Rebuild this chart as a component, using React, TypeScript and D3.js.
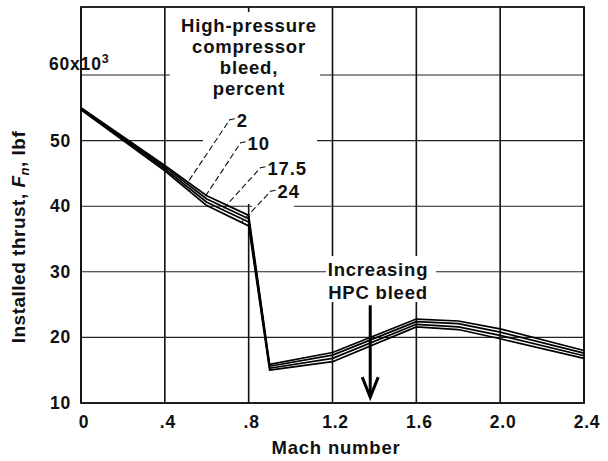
import React from "react";
import * as d3 from "d3";

const mach = [0, 0.4, 0.6, 0.8, 0.9, 1.2, 1.6, 1.8, 2.0, 2.4];
const bleed2 = [55.0, 46.2, 41.6, 38.6, 15.9, 17.7, 22.8, 22.5, 21.3, 18.0];
const bleed10 = [54.9, 46.0, 41.1, 38.1, 15.6, 17.3, 22.4, 22.1, 20.8, 17.6];
const bleed175 = [54.8, 45.7, 40.6, 37.6, 15.3, 16.8, 22.0, 21.6, 20.3, 17.2];
const bleed24 = [54.7, 45.4, 40.1, 37.0, 15.0, 16.3, 21.6, 21.2, 19.8, 16.8];
const seriesNames = ["2", "10", "17.5", "24"];
const seriesValues = [bleed2, bleed10, bleed175, bleed24];
const leaderTargetMach = [0.51, 0.59, 0.675, 0.765];
const labelMach = [0.743, 0.795, 0.89, 0.938];
const labelValue = [52.1, 48.6, 44.8, 41.2];
const xTicks = [0, 0.4, 0.8, 1.2, 1.6, 2.0, 2.4];
const xTickLabels = ["0", ".4", ".8", "1.2", "1.6", "2.0", "2.4"];
const yTicks = [10, 20, 30, 40, 50, 60];
const titleLines = ["High-pressure", "compressor", "bleed,", "percent"];
const arrowMach = 1.38;
const arrowFrom = 24.9;
const arrowTo = 10.9;

const W = 608;
const H = 461;
const FONT = "'Liberation Sans', Arial, Helvetica, sans-serif";

export default function App() {
  const x = d3.scaleLinear().domain([0, 2.4]).range([81, 584]);
  const y = d3.scaleLinear().domain([10, 60]).range([403, 75]);
  const top = 7;
  const left = x(0), right = x(2.4), bottom = y(10);

  const line = d3
    .line<[number, number]>()
    .x((d) => x(d[0]))
    .y((d) => y(d[1]));

  const interp = (vals: number[], m: number) => {
    const i = d3.bisectRight(mach, m) - 1;
    const t = (m - mach[i]) / (mach[i + 1] - mach[i]);
    return vals[i] + t * (vals[i + 1] - vals[i]);
  };

  const txt = {
    fontFamily: FONT,
    fontWeight: "bold" as const,
    fill: "#111",
    letterSpacing: "0.8px",
  };

  return (
    <svg
      width={W}
      height={H}
      style={{ position: "absolute", left: 0, top: 0, background: "#fff" }}
    >
      <rect width={W} height={H} fill="#fff" />
      {/* gridlines */}
      {xTicks.map((t) => (
        <line key={"vx" + t} x1={x(t)} x2={x(t)} y1={top} y2={bottom} stroke="#111" strokeWidth={1.6} />
      ))}
      {yTicks.map((t) => (
        <line key={"hy" + t} x1={left} x2={right} y1={y(t)} y2={y(t)} stroke="#222" strokeWidth={1.1} />
      ))}
      {/* frame */}
      <rect x={left} y={top} width={right - left} height={bottom - top} fill="none" stroke="#111" strokeWidth={1.8} />
      {/* white patches behind annotations */}
      <rect x={170} y={12} width={150} height={90} fill="#fff" />
      <rect x={203} y={100} width={114} height={104} fill="#fff" />
      <rect x={252} y={203} width={42} height={8} fill="#fff" />
      <rect x={326} y={256} width={110} height={46} fill="#fff" />

      {/* curves */}
      {seriesValues.map((vals, i) => (
        <path
          key={seriesNames[i]}
          d={line(mach.map((m, j) => [m, vals[j]] as [number, number])) || ""}
          fill="none"
          stroke="#000"
          strokeWidth={1.7}
          strokeLinejoin="round"
        />
      ))}

      {/* legend title */}
      {titleLines.map((s, i) => (
        <text key={s} x={249} y={32 + i * 21} textAnchor="middle" fontSize={18.5} style={txt}>
          {s}
        </text>
      ))}
      {/* series labels with leaders */}
      {seriesNames.map((s, i) => {
        const lx = x(labelMach[i]);
        const ly = y(labelValue[i]);
        const tx = x(leaderTargetMach[i]);
        const ty = y(interp(seriesValues[i], leaderTargetMach[i]));
        return (
          <g key={"lab" + s}>
            <path
              d={`M${lx - 2},${ly - 8} L${lx - 7},${ly - 7} L${tx},${ty}`}
              fill="none"
              stroke="#111"
              strokeWidth={1.1}
              strokeDasharray="6,3"
            />
            <text x={lx} y={ly} fontSize={18.5} style={txt}>
              {s}
            </text>
          </g>
        );
      })}

      {/* increasing HPC bleed annotation */}
      <text x={378} y={276} textAnchor="middle" fontSize={18.5} style={txt}>
        Increasing
      </text>
      <text x={378} y={299} textAnchor="middle" fontSize={18.5} style={txt}>
        HPC bleed
      </text>
      <line x1={x(arrowMach)} x2={x(arrowMach)} y1={y(arrowFrom)} y2={y(arrowTo)} stroke="#000" strokeWidth={3} />
      <path
        d={`M${x(arrowMach) - 8},${y(arrowTo) - 20} L${x(arrowMach)},${y(arrowTo)} L${x(arrowMach) + 8},${y(arrowTo) - 20}`}
        fill="none"
        stroke="#000"
        strokeWidth={3}
      />

      {/* y tick labels */}
      {yTicks.map((t) =>
        t === 60 ? (
          <text key={"yl" + t} x={49} y={y(t) - 5} fontSize={17.5} style={txt}>
            60x10<tspan dy={-7} fontSize={12.5}>3</tspan>
          </text>
        ) : (
          <text key={"yl" + t} x={71} y={y(t) + 6} textAnchor="end" fontSize={17.5} style={txt}>
            {t}
          </text>
        )
      )}
      {/* x tick labels */}
      {xTicks.map((t, i) => (
        <text key={"xl" + t} x={x(t) + 3} y={428} textAnchor="middle" fontSize={17.5} style={txt}>
          {xTickLabels[i]}
        </text>
      ))}
      <text x={336} y={454} textAnchor="middle" fontSize={18.5} style={txt}>
        Mach number
      </text>
      <text
        transform={`translate(25,237) rotate(-90)`}
        textAnchor="middle"
        fontSize={19}
        style={{ ...txt, letterSpacing: "0.5px" }}
      >
        Installed thrust, <tspan fontStyle="italic">F</tspan>
        <tspan fontStyle="italic" fontSize={13} dy={4}>n</tspan>
        <tspan dy={-4}>, lbf</tspan>
      </text>
    </svg>
  );
}
